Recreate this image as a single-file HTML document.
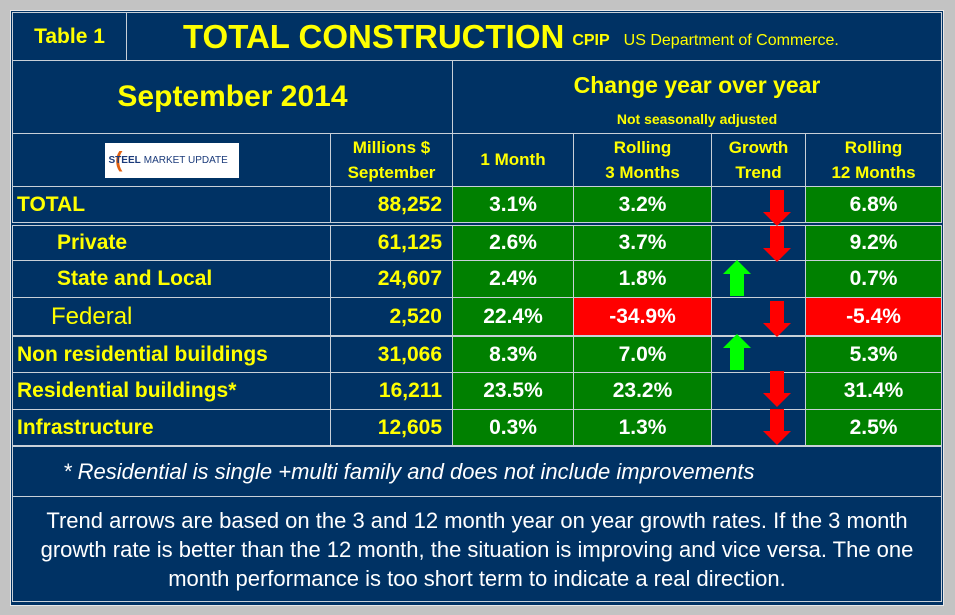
<!DOCTYPE html><html><head><style>
body{margin:0;width:955px;height:615px;background:#c3c3c3;position:relative;overflow:hidden;font-family:"Liberation Sans",sans-serif;}
.p{position:absolute;left:10px;top:10px;width:932px;height:594px;background:#003264;border:1px solid #e8e8e8;}
.c{position:absolute;box-sizing:border-box;border:1px solid #c8d0d8;display:flex;align-items:center;justify-content:center;text-align:center;font-weight:bold;color:#ffff00;}
.g{background:#008000;color:#fff;font-size:21px;}
.r{background:#ff0000;color:#fff;font-size:21px;}
.n{background:#003264;}
.l{justify-content:flex-start;padding-left:4px;font-size:21px;}
.v{justify-content:flex-end;padding-right:10px;font-size:21px;}
</style></head><body>
<div class="p"></div>
<div class="c n" style="left:12px;top:12px;width:115px;height:49px;font-size:21px;">Table 1</div>
<div class="c n" style="left:126px;top:12px;width:816px;height:49px;justify-content:flex-start;padding-left:56px;"><span style="font-size:33px;">TOTAL CONSTRUCTION</span><span style="font-size:16px;margin-left:8px;margin-top:8px;">CPIP</span><span style="font-size:16px;font-weight:normal;margin-left:14px;margin-top:8px;">US Department of Commerce.</span></div>
<div class="c n" style="left:12px;top:60px;width:441px;height:74px;font-size:30px;">September 2014</div>
<div class="c n" style="left:452px;top:60px;width:490px;height:74px;flex-direction:column;"><span style="font-size:23px;margin-top:4px;">Change year over year</span><span style="font-size:14px;margin-top:12px;">Not seasonally adjusted</span></div>
<div class="c n" style="left:12px;top:133px;width:319px;height:54px;"><div style="width:134px;height:35px;background:#fff;display:flex;align-items:center;justify-content:center;font-size:10px;color:#1a3a7a;"><span style="color:#e06010;font-size:22px;margin-right:-14px;">(</span>STEEL <span style="font-weight:normal;margin-left:3px">MARKET UPDATE</span></div></div>
<div class="c n" style="left:330px;top:133px;width:123px;height:54px;font-size:17px;line-height:25px;">Millions $<br>September</div>
<div class="c n" style="left:452px;top:133px;width:122px;height:54px;font-size:17px;">1 Month</div>
<div class="c n" style="left:573px;top:133px;width:139px;height:54px;font-size:17px;line-height:25px;">Rolling<br>3 Months</div>
<div class="c n" style="left:711px;top:133px;width:95px;height:54px;font-size:17px;line-height:25px;">Growth<br>Trend</div>
<div class="c n" style="left:805px;top:133px;width:137px;height:54px;font-size:17px;line-height:25px;">Rolling<br>12 Months</div>

<div class="c n l" style="left:12px;top:186px;width:319px;height:37px;">TOTAL</div>
<div class="c n v" style="left:330px;top:186px;width:123px;height:37px;">88,252</div>
<div class="c g" style="left:452px;top:186px;width:122px;height:37px;">3.1%</div>
<div class="c g" style="left:573px;top:186px;width:139px;height:37px;">3.2%</div>
<div class="c n" style="left:711px;top:186px;width:95px;height:37px;"></div>
<div class="c g" style="left:805px;top:186px;width:137px;height:37px;">6.8%</div>

<div class="c n l" style="left:12px;top:225px;width:319px;height:36px;padding-left:44px;">Private</div>
<div class="c n v" style="left:330px;top:225px;width:123px;height:36px;">61,125</div>
<div class="c g" style="left:452px;top:225px;width:122px;height:36px;">2.6%</div>
<div class="c g" style="left:573px;top:225px;width:139px;height:36px;">3.7%</div>
<div class="c n" style="left:711px;top:225px;width:95px;height:36px;"></div>
<div class="c g" style="left:805px;top:225px;width:137px;height:36px;">9.2%</div>

<div class="c n l" style="left:12px;top:260px;width:319px;height:38px;padding-left:44px;">State and Local</div>
<div class="c n v" style="left:330px;top:260px;width:123px;height:38px;">24,607</div>
<div class="c g" style="left:452px;top:260px;width:122px;height:38px;">2.4%</div>
<div class="c g" style="left:573px;top:260px;width:139px;height:38px;">1.8%</div>
<div class="c n" style="left:711px;top:260px;width:95px;height:38px;"></div>
<div class="c g" style="left:805px;top:260px;width:137px;height:38px;">0.7%</div>

<div class="c n l" style="left:12px;top:297px;width:319px;height:39px;padding-left:38px;font-weight:normal;font-size:24px;">Federal</div>
<div class="c n v" style="left:330px;top:297px;width:123px;height:39px;">2,520</div>
<div class="c g" style="left:452px;top:297px;width:122px;height:39px;">22.4%</div>
<div class="c r" style="left:573px;top:297px;width:139px;height:39px;">-34.9%</div>
<div class="c n" style="left:711px;top:297px;width:95px;height:39px;"></div>
<div class="c r" style="left:805px;top:297px;width:137px;height:39px;">-5.4%</div>

<div class="c n l" style="left:12px;top:336px;width:319px;height:37px;">Non residential buildings</div>
<div class="c n v" style="left:330px;top:336px;width:123px;height:37px;">31,066</div>
<div class="c g" style="left:452px;top:336px;width:122px;height:37px;">8.3%</div>
<div class="c g" style="left:573px;top:336px;width:139px;height:37px;">7.0%</div>
<div class="c n" style="left:711px;top:336px;width:95px;height:37px;"></div>
<div class="c g" style="left:805px;top:336px;width:137px;height:37px;">5.3%</div>

<div class="c n l" style="left:12px;top:372px;width:319px;height:38px;">Residential buildings*</div>
<div class="c n v" style="left:330px;top:372px;width:123px;height:38px;">16,211</div>
<div class="c g" style="left:452px;top:372px;width:122px;height:38px;">23.5%</div>
<div class="c g" style="left:573px;top:372px;width:139px;height:38px;">23.2%</div>
<div class="c n" style="left:711px;top:372px;width:95px;height:38px;"></div>
<div class="c g" style="left:805px;top:372px;width:137px;height:38px;">31.4%</div>

<div class="c n l" style="left:12px;top:409px;width:319px;height:37px;">Infrastructure</div>
<div class="c n v" style="left:330px;top:409px;width:123px;height:37px;">12,605</div>
<div class="c g" style="left:452px;top:409px;width:122px;height:37px;">0.3%</div>
<div class="c g" style="left:573px;top:409px;width:139px;height:37px;">1.3%</div>
<div class="c n" style="left:711px;top:409px;width:95px;height:37px;"></div>
<div class="c g" style="left:805px;top:409px;width:137px;height:37px;">2.5%</div>

<div class="c n" style="left:12px;top:446px;width:930px;height:51px;justify-content:flex-start;padding-left:50px;color:#fff;font-weight:normal;font-style:italic;font-size:22px;">* Residential is single +multi family and does not include improvements</div>
<div class="c n" style="left:12px;top:496px;width:930px;height:106px;color:#fff;font-weight:normal;font-size:22px;line-height:29px;padding:0 24px;">Trend arrows are based on the 3 and 12 month year on year growth rates. If the 3 month<br>growth rate is better than the 12 month, the situation is improving and vice versa. The one<br>month performance is too short term to indicate a real direction.</div>

<svg style="position:absolute;left:0;top:0" width="955" height="615">
<defs><polygon id="d" points="-7,0 7,0 7,22 14,22 0,36 -14,22 -7,22" fill="#ff0000"/>
<polygon id="u" points="-7,36 7,36 7,14 14,14 0,0 -14,14 -7,14" fill="#00ff00"/></defs>
<use href="#d" x="777" y="190"/>
<use href="#d" x="777" y="226"/>
<use href="#u" x="737" y="260"/>
<use href="#d" x="777" y="301"/>
<use href="#u" x="737" y="334"/>
<use href="#d" x="777" y="371"/>
<use href="#d" x="777" y="409"/>
</svg>
</body></html>
